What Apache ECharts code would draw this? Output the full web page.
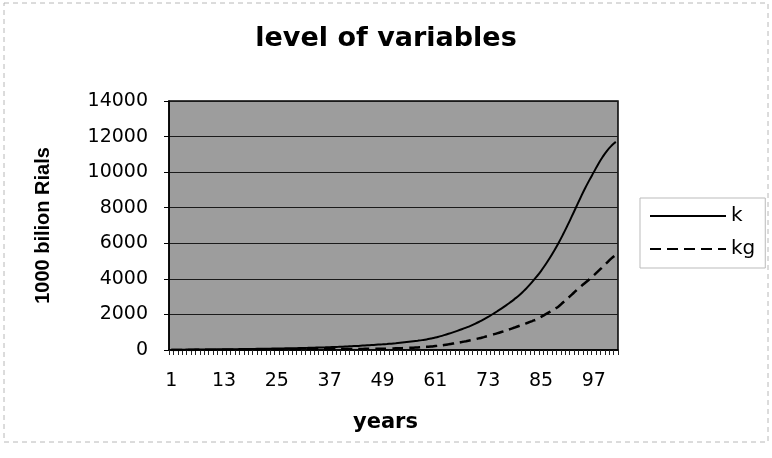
<!DOCTYPE html>
<html>
<head>
<meta charset="utf-8">
<script src="https://cdn.jsdelivr.net/npm/echarts@6/dist/echarts.min.js"></script>
<style>
html,body{margin:0;padding:0;background:#fff;}
#chart{width:772px;height:458px;}
</style>
</head>
<body>
<div id="chart"></div>
<script>
const years = [
  '1','2','3','4','5','6','7','8','9','10',
  '11','12','13','14','15','16','17','18','19','20',
  '21','22','23','24','25','26','27','28','29','30',
  '31','32','33','34','35','36','37','38','39','40',
  '41','42','43','44','45','46','47','48','49','50',
  '51','52','53','54','55','56','57','58','59','60',
  '61','62','63','64','65','66','67','68','69','70',
  '71','72','73','74','75','76','77','78','79','80',
  '81','82','83','84','85','86','87','88','89','90',
  '91','92','93','94','95','96','97','98','99','100',
  '101','102'
];

const kValues = [
  15, 17, 19, 21, 23, 25, 27, 29, 31, 33,
  35, 37, 40, 43, 46, 49, 52, 55, 58, 62,
  66, 70, 74, 78, 82, 87, 92, 97, 102, 108,
  114, 120, 127, 134, 142, 150, 159, 168, 178, 189,
  200, 212, 225, 239, 254, 270, 286, 303, 320, 338,
  358, 380, 404, 430, 458, 488, 520, 555, 595, 645,
  700, 765, 835, 910, 990, 1075, 1165, 1260, 1360, 1470,
  1590, 1720, 1860, 2010, 2165, 2325, 2495, 2675, 2865, 3065,
  3295, 3550, 3825, 4120, 4440, 4790, 5170, 5580, 6020, 6490,
  6990, 7510, 8040, 8570, 9080, 9550, 10000, 10450, 10850, 11200,
  11480, 11700
];

const kgValues = [
  5, 5, 6, 6, 7, 7, 8, 8, 9, 9,
  10, 11, 12, 13, 14, 15, 16, 17, 18, 19,
  20, 21, 22, 23, 24, 26, 28, 30, 32, 34,
  36, 38, 40, 42, 44, 46, 48, 50, 52, 54,
  56, 58, 60, 62, 64, 66, 68, 70, 74, 78,
  84, 92, 100, 110, 120, 132, 145, 160, 176, 193,
  220, 250, 283, 320, 360, 402, 447, 495, 546, 600,
  660, 725, 792, 860, 935, 1012, 1092, 1176, 1262, 1350,
  1440, 1532, 1626, 1722, 1860, 2000, 2145, 2295, 2450, 2670,
  2890, 3115, 3345, 3560, 3770, 3980, 4195, 4430, 4670, 4910,
  5150, 5350
];

const seriesNames = ['k', 'kg'];
const chartTitle = 'level of variables';
const xName = 'years';
const yName = '1000 bilion Rials';

const chart = echarts.init(document.getElementById('chart'), null, {renderer: 'canvas'});
chart.setOption({
  animation: false,
  backgroundColor: '#ffffff',
  title: {
    text: chartTitle,
    left: 'center',
    top: 20,
    textStyle: {fontFamily: 'DejaVu Sans', fontWeight: 'bold', fontSize: 27, color: '#000'}
  },
  graphic: [{
    type: 'rect',
    silent: true,
    shape: {x: 4, y: 3, width: 764, height: 439},
    style: {fill: 'none', stroke: '#b8b8b8', lineWidth: 1, lineDash: [5, 4]}
  }],
  legend: {
    orient: 'vertical',
    left: 640,
    top: 198,
    itemWidth: 76,
    itemHeight: 14,
    itemGap: 13,
    padding: [8, 10, 9, 9],
    borderColor: '#bbbbbb',
    borderWidth: 1,
    data: seriesNames,
    itemStyle: {opacity: 0, borderWidth: 0},
    textStyle: {fontFamily: 'DejaVu Sans', fontSize: 20, color: '#000'}
  },
  grid: {
    left: 169, right: 154, top: 101, bottom: 108,
    show: true,
    backgroundColor: '#9d9d9d',
    borderColor: '#000',
    borderWidth: 1.5
  },
  xAxis: {
    type: 'category',
    data: years,
    boundaryGap: true,
    name: xName,
    nameLocation: 'middle',
    nameGap: 62,
    nameTextStyle: {fontFamily: 'DejaVu Sans', fontWeight: 'bold', fontSize: 21, color: '#000', padding: [0, 16, 0, 0]},
    axisLine: {lineStyle: {color: '#000', width: 1.5}},
    axisTick: {show: true, interval: 0, length: 5, lineStyle: {color: '#222'}},
    axisLabel: {interval: 11, margin: 22, fontFamily: 'DejaVu Sans', fontSize: 19, color: '#000'},
    splitLine: {show: false}
  },
  yAxis: {
    type: 'value',
    min: 0, max: 14000, interval: 2000,
    name: yName,
    nameLocation: 'middle',
    nameGap: 116,
    nameTextStyle: {fontFamily: 'Liberation Sans', fontWeight: 'bold', fontSize: 20, color: '#000'},
    axisLine: {show: true, lineStyle: {color: '#000', width: 1.5}},
    axisTick: {show: true, length: 5, lineStyle: {color: '#000'}},
    axisLabel: {margin: 21, fontFamily: 'DejaVu Sans', fontSize: 19, color: '#000',
      formatter: function (v) { return String(v); }},
    splitLine: {show: true, lineStyle: {color: '#1a1a1a', width: 1}}
  },
  series: [
    {
      name: seriesNames[0],
      type: 'line',
      data: kValues,
      symbol: 'none',
      smooth: true,
      lineStyle: {color: '#000', width: 2, type: 'solid'},
      itemStyle: {color: '#000'}
    },
    {
      name: seriesNames[1],
      type: 'line',
      data: kgValues,
      symbol: 'none',
      smooth: true,
      lineStyle: {color: '#000', width: 2.5, type: [11, 6]},
      itemStyle: {color: '#000'}
    }
  ]
});
</script>
</body>
</html>
